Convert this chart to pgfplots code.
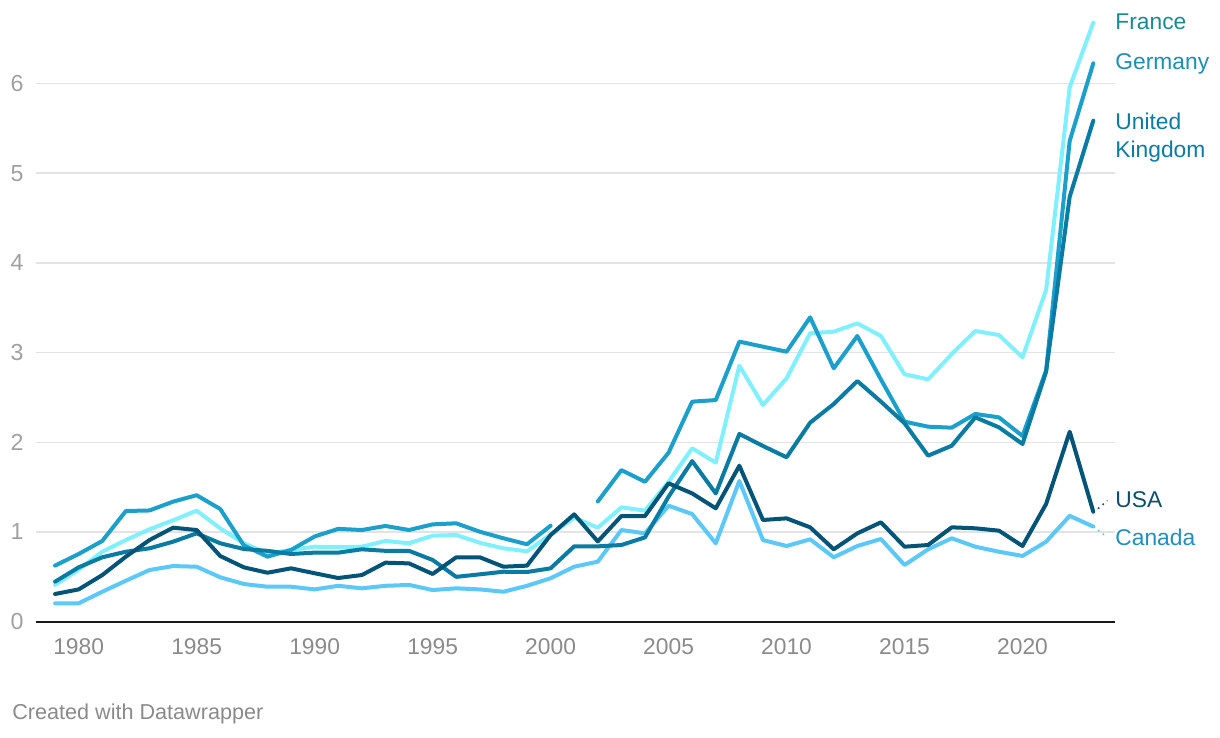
\documentclass[border=0pt]{standalone}
\usepackage{pgfplots}
\pgfplotsset{compat=1.18}
\usepackage{pgfplotstable}
\usepackage{fontspec}
\setmainfont{Liberation Sans}
\definecolor{cFrance}{HTML}{80F0FF}
\definecolor{cGermany}{HTML}{1BA0CC}
\definecolor{cUK}{HTML}{0A7BA3}
\definecolor{cUSA}{HTML}{045478}
\definecolor{cCanada}{HTML}{5BC8F7}
\definecolor{lFrance}{HTML}{188A94}
\definecolor{lGermany}{HTML}{1C8DB5}
\definecolor{lUK}{HTML}{0A7BA3}
\definecolor{lUSA}{HTML}{0B4F6C}
\definecolor{lCanada}{HTML}{1E8FC0}
\definecolor{gridc}{HTML}{E3E3E3}
\definecolor{ytc}{HTML}{A0A0A0}
\definecolor{xtc}{HTML}{8A8A8A}

\pgfplotstableread{
year France Germany UK USA Canada
1979 0.41 0.625 0.446 0.309 0.205
1980 0.58 0.755 0.606 0.36 0.205
1981 0.78 0.90 0.718 0.52 0.334
1982 0.91 1.234 0.78 0.725 0.457
1983 1.03 1.24 0.818 0.91 0.576
1984 1.13 1.338 0.892 1.048 0.62
1985 1.238 1.41 0.985 1.022 0.613
1986 1.04 1.256 0.874 0.732 0.495
1987 0.874 0.85 0.81 0.606 0.42
1988 0.76 0.725 0.79 0.546 0.39
1989 0.80 0.80 0.755 0.595 0.39
1990 0.836 0.95 0.77 0.54 0.36
1991 0.83 1.035 0.77 0.487 0.40
1992 0.836 1.022 0.807 0.52 0.372
1993 0.90 1.067 0.79 0.658 0.40
1994 0.874 1.022 0.79 0.65 0.41
1995 0.959 1.085 0.688 0.532 0.353
1996 0.966 1.097 0.50 0.718 0.372
1997 0.88 1.003 0.528 0.718 0.36
1998 0.818 0.93 0.557 0.613 0.334
1999 0.785 0.863 0.554 0.625 0.40
2000 0.97 1.07 0.595 0.966 0.484
2001 1.16 nan 0.84 1.197 0.613
2002 1.048 1.34 0.84 0.895 0.669
2003 1.275 1.69 0.855 1.178 1.022
2004 1.238 1.56 0.94 1.178 0.985
2005 1.56 1.884 1.394 1.543 1.293
2006 1.933 2.453 1.79 1.43 1.20
2007 1.773 2.471 1.43 1.264 0.874
2008 2.854 3.122 2.093 1.739 1.569
2009 2.416 3.066 1.959 1.134 0.91
2010 2.713 3.01 1.833 1.152 0.844
2011 3.215 3.393 2.219 1.052 0.918
2012 3.233 2.825 2.427 0.807 0.718
2013 3.326 3.185 2.683 0.985 0.844
2014 3.185 2.70 2.453 1.108 0.922
2015 2.758 2.23 2.212 0.836 0.632
2016 2.702 2.174 1.851 0.855 0.807
2017 2.984 2.163 1.962 1.052 0.93
2018 3.241 2.316 2.278 1.041 0.836
2019 3.196 2.278 2.167 1.015 0.78
2020 2.947 2.07 1.981 0.844 0.733
2021 3.698 2.80 2.787 1.312 0.892
2022 5.958 5.36 4.738 2.118 1.18
2023 6.678 6.225 5.586 1.226 1.06
}\datatable

\begin{document}
\begin{tikzpicture}[x=1pt,y=1pt]
\path[use as bounding box] (0,0) rectangle (610,369);
\begin{axis}[
  at={(17.75pt,58.15pt)}, anchor=south west,
  scale only axis, width=539.75pt, height=300.5pt,
  xmin=1978.17, xmax=2023.92, ymin=0, ymax=6.7,
  clip=false,
  axis x line*=bottom, axis y line*=left,
  y axis line style={draw=none},
  x axis line style={draw=black!90, line width=1pt, -},
  major tick length=0pt,
  xtick={1980,1985,...,2020},
  ytick={0,1,...,6},
  ymajorgrids, grid style={draw=gridc, line width=0.75pt},
  /pgf/number format/1000 sep={},
  /pgf/number format/assume math mode=true,
  xticklabel style={anchor=center, yshift=-12.6pt, text=xtc, font=\fontsize{11.4}{13}\selectfont},
  yticklabel style={anchor=center, xshift=-9.2pt, text=ytc, font=\fontsize{11.6}{13}\selectfont},
  unbounded coords=jump,
  every axis plot/.append style={line width=2pt, line join=round, line cap=round, mark=none},
]
\addplot[cCanada] table[x=year, y=Canada] {\datatable};
\addplot[cFrance] table[x=year, y=France] {\datatable};
\addplot[cGermany] table[x=year, y=Germany] {\datatable};
\addplot[cUK] table[x=year, y=UK] {\datatable};
\addplot[cUSA] table[x=year, y=USA] {\datatable};

\draw[lUSA, line width=0.8pt, dash pattern=on 0.8pt off 2.2pt] (axis cs:2023.2,1.26) -- (axis cs:2023.6,1.35);
\draw[cCanada, line width=0.8pt, dash pattern=on 0.8pt off 2.2pt] (axis cs:2023.2,1.02) -- (axis cs:2023.6,0.94);

\begin{scope}[every node/.style={anchor=base west, inner sep=0pt, font=\fontsize{11.4}{13}\selectfont}]
\node[text=lFrance] at (axis cs:2023.92,6.604) {France};
\node[text=lGermany] at (axis cs:2023.92,6.152) {Germany};
\node[text=lUK] at (axis cs:2023.92,5.487) {United};
\node[text=lUK] at (axis cs:2023.92,5.173) {Kingdom};
\node[text=lUSA] at (axis cs:2023.92,1.275) {USA};
\node[text=lCanada] at (axis cs:2023.92,0.855) {Canada};
\end{scope}
\end{axis}
\node[anchor=west, inner sep=0pt, text=xtc, font=\fontsize{10.8}{13}\selectfont] at (6,12) {Created with Datawrapper};
\end{tikzpicture}
\end{document}
